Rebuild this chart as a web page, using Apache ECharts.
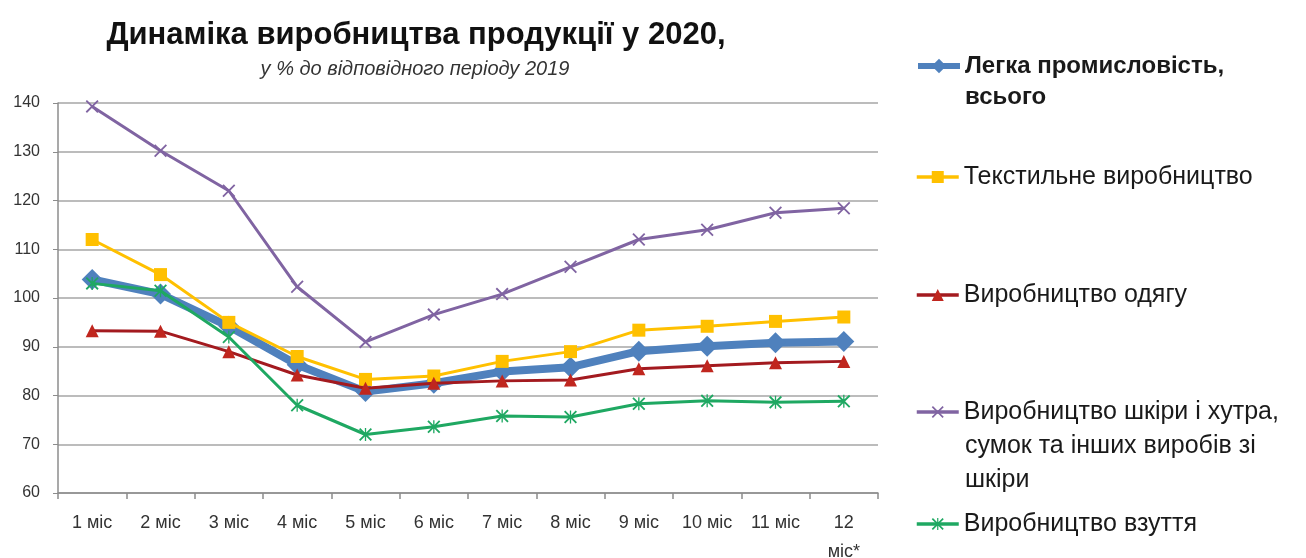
<!DOCTYPE html>
<html>
<head>
<meta charset="utf-8">
<script src="https://cdn.jsdelivr.net/npm/echarts@6/dist/echarts.min.js"></script>
<style>
html,body{margin:0;padding:0;background:#fff;overflow:hidden;}
#chart{width:1306px;height:558px;}
</style>
</head>
<body>
<div id="chart"></div>
<script>
var categories = ['1 міс','2 міс','3 міс','4 міс','5 міс','6 міс','7 міс','8 міс','9 міс','10 міс','11 міс','12\nміс*'];
var yTicks = [60, 140, 10];
var seriesNames = [
  'Легка промисловість, всього',
  'Текстильне виробництво',
  'Виробництво одягу',
  'Виробництво шкіри і хутра, сумок та інших виробів зі шкіри',
  'Виробництво взуття'
];
var legendFirstLines = [
  'Легка промисловість,',
  'Текстильне виробництво',
  'Виробництво одягу',
  'Виробництво шкіри і хутра,',
  'Виробництво взуття'
];
var legendMoreLines = [
  ['всього'], [], [], ['сумок та інших виробів зі', 'шкіри'], []
];
var totalLight = [103.8, 100.8, 94.2, 86.3, 80.8, 82.5, 84.9, 85.8, 89.1, 90.1, 90.8, 91.1];
var textile    = [112.0, 104.8, 95.0, 88.0, 83.3, 84.0, 87.0, 89.0, 93.4, 94.2, 95.2, 96.1];
var clothing   = [93.3, 93.2, 89.0, 84.2, 81.5, 82.5, 83.0, 83.2, 85.5, 86.1, 86.7, 87.0];
var leather    = [139.3, 130.2, 122.0, 102.3, 91.0, 96.6, 100.8, 106.4, 112.0, 114.0, 117.5, 118.4];
var footwear   = [103.0, 101.5, 92.0, 78.0, 72.0, 73.6, 75.8, 75.6, 78.3, 78.9, 78.6, 78.8];

var colors = ['#4F81BD', '#FFC000', '#A31A1F', '#8064A2', '#1FA862'];
var symbolColors = ['#4F81BD', '#FFC000', '#C0261E', '#8064A2', '#1FA862'];
var xPath = 'path://M0,1 L1,0 L10,9 L9,10 Z M9,0 L10,1 L1,10 L0,9 Z';
var starPath = 'path://M0,1 L1,0 L10,9 L9,10 Z M9,0 L10,1 L1,10 L0,9 Z M4.5,0 L5.5,0 L5.5,10 L4.5,10 Z';

var chart = echarts.init(document.getElementById('chart'));
var font = '"Liberation Sans", Arial, sans-serif';
var legendCenters = [66, 177, 295, 412, 524];
var lineStep = 34;
var legendLeft = 915, iconW = 42, textX = 965;
var legendLineWidths = [6, 3.5, 3.5, 3.5, 3.5];
var legends = seriesNames.map(function(n, i){
  return {
    data: [n],
    orient: 'vertical',
    left: legendLeft,
    top: legendCenters[i] - 15,
    padding: 0,
    itemWidth: iconW,
    itemHeight: i === 0 ? 18 : 15,
    itemGap: 0,
    selectedMode: false,
    lineStyle: {width: legendLineWidths[i]},
    formatter: function(){ return legendFirstLines[i]; },
    textStyle: {
      fontFamily: font,
      fontSize: i === 0 ? 24 : 25,
      fontWeight: i === 0 ? 'bold' : 'normal',
      color: '#1a1a1a',
      lineHeight: 30
    }
  };
});
var graphics = [];
legendMoreLines.forEach(function(lines, i){
  lines.forEach(function(t, k){
    graphics.push({
      type: 'text',
      left: textX,
      top: legendCenters[i] + lineStep * (k + 1) - (i === 0 ? 3 : 0) - 15,
      style: {
        text: t,
        fontFamily: font,
        fontSize: i === 0 ? 24 : 25,
        fontWeight: i === 0 ? 'bold' : 'normal',
        fill: '#1a1a1a',
        lineHeight: 30
      }
    });
  });
});

var datas = [totalLight, textile, clothing, leather, footwear];
var symbols = ['diamond', 'rect', 'triangle', xPath, starPath];
var symbolSizes = [21, 13, 13, 13, 13];
var widths = [8, 3, 3, 3, 3];
var series = datas.map(function(d, i){
  return {
    name: seriesNames[i],
    type: 'line',
    data: d,
    symbol: symbols[i],
    symbolSize: symbolSizes[i],
    showAllSymbol: true,
    lineStyle: {color: colors[i], width: widths[i]},
    itemStyle: {color: symbolColors[i], borderWidth: 0},
    z: 2 + i,
    animation: false
  };
});

chart.setOption({
  animation: false,
  backgroundColor: '#fff',
  title: [{
    text: 'Динаміка виробництва продукції у 2020,',
    left: 411, top: 15, textAlign: 'center',
    textStyle: {fontFamily: font, fontSize: 31, fontWeight: 'bold', color: '#111'}
  },{
    text: 'у % до відповідного періоду 2019',
    left: 410, top: 54, textAlign: 'center',
    textStyle: {fontFamily: font, fontSize: 20, fontStyle: 'italic', fontWeight: 'normal', color: '#333'}
  }],
  legend: legends,
  graphic: graphics,
  grid: {left: 58, right: 428, top: 103, bottom: 65, containLabel: false, outerBoundsMode: 'none'},
  xAxis: {
    type: 'category',
    data: categories,
    boundaryGap: true,
    axisLine: {lineStyle: {color: '#8c8c8c', width: 1.5}},
    axisTick: {show: true, length: 6, lineStyle: {color: '#8c8c8c', width: 1.5}},
    axisLabel: {fontFamily: font, fontSize: 18, color: '#333', margin: 16, lineHeight: 29, interval: 0}
  },
  yAxis: {
    type: 'value',
    min: yTicks[0], max: yTicks[1], interval: yTicks[2],
    axisLine: {show: true, lineStyle: {color: '#8c8c8c', width: 1.5}},
    axisTick: {show: true, length: 5, lineStyle: {color: '#8c8c8c'}},
    splitLine: {lineStyle: {color: '#a6a6a6', width: 1.5}},
    axisLabel: {fontFamily: font, fontSize: 16, color: '#333', margin: 18, align: 'right'}
  },
  series: series
});
</script>
</body>
</html>
